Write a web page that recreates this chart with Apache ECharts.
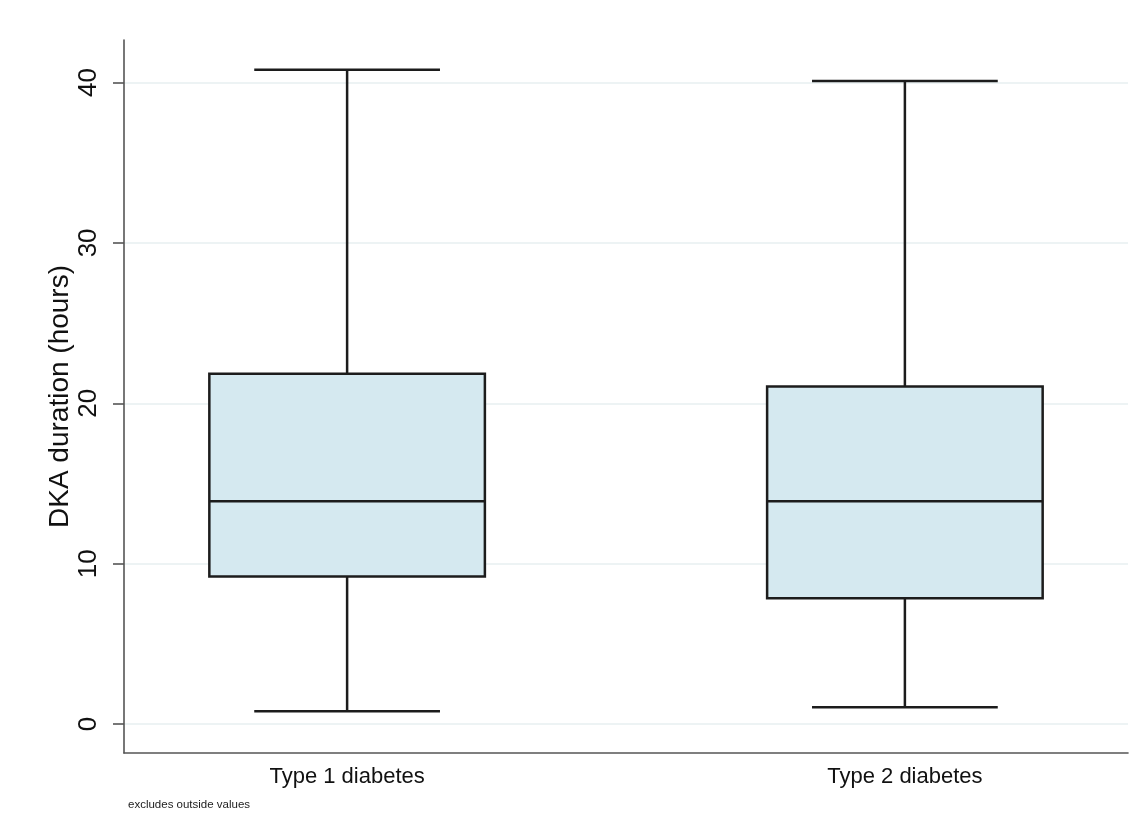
<!DOCTYPE html>
<html>
<head>
<meta charset="utf-8">
<script src="https://cdn.jsdelivr.net/npm/echarts@6/dist/echarts.min.js"></script>
<style>
  html, body { margin: 0; padding: 0; background: #ffffff; }
  #chart { width: 1145px; height: 839px; }
</style>
</head>
<body>
<div id="chart"></div>
<script>
// ---- data ----
const categories = ['Type 1 diabetes', 'Type 2 diabetes'];
const positions = [0, 1];
const whiskerLow = [0.8, 1.05];
const quartile1 = [9.2, 7.85];
const medians = [13.9, 13.9];
const quartile3 = [21.85, 21.05];
const whiskerHigh = [40.8, 40.1];
const yTicks = [0, 10, 20, 30, 40];
const yTitle = 'DKA duration (hours)';
const noteText = 'excludes outside values';

const FONT = '"Liberation Sans", Arial, Helvetica, sans-serif';
const BOX_W = 0.494;   // in axis units
const CAP_W = 0.333;

const seriesData = positions.map((p, i) => [p, whiskerLow[i], quartile1[i], medians[i], quartile3[i], whiskerHigh[i]]);

const chart = echarts.init(document.getElementById('chart'), null, { renderer: 'canvas' });

const lineStyle = { stroke: '#1c1c1c', lineWidth: 2.5 };

chart.setOption({
  backgroundColor: '#ffffff',
  animation: false,
  grid: { left: 124, right: 17, top: 40, bottom: 86 },
  xAxis: {
    type: 'value',
    min: -0.4,
    max: 1.4,
    axisLine: { show: true, onZero: false, lineStyle: { color: '#555555', width: 1.6 } },
    axisTick: { show: false, customValues: positions },
    splitLine: { show: false },
    axisLabel: {
      customValues: positions,
      formatter: v => categories[Math.round(v)] || '',
      fontSize: 22,
      color: '#111111',
      fontFamily: FONT,
      margin: 13
    }
  },
  yAxis: {
    type: 'value',
    min: -1.8,
    max: 42.65,
    name: yTitle,
    nameLocation: 'middle',
    nameRotate: 90,
    nameGap: 50,
    nameMoveOverlap: false,
    nameTextStyle: { fontSize: 28, color: '#111111', fontFamily: FONT },
    axisLine: { show: true, onZero: false, lineStyle: { color: '#555555', width: 1.6 } },
    axisTick: { show: true, length: 11, customValues: yTicks, lineStyle: { color: '#555555', width: 1.6 } },
    axisLabel: {
      customValues: yTicks,
      rotate: 90,
      fontSize: 26,
      color: '#111111',
      fontFamily: FONT,
      margin: 22
    },
    splitLine: { show: true, lineStyle: { color: '#e7eff1', width: 1.6 } }
  },
  graphic: [{
    type: 'text',
    left: 128,
    top: 799,
    style: { text: noteText, fontSize: 11.5, fill: '#222222', fontFamily: FONT }
  }],
  series: [{
    type: 'custom',
    data: seriesData,
    encode: { x: 0, y: [1, 2, 3, 4, 5] },
    renderItem: function (params, api) {
      const x = api.value(0);
      const lo = api.coord([x, api.value(1)]);
      const q1 = api.coord([x, api.value(2)]);
      const md = api.coord([x, api.value(3)]);
      const q3 = api.coord([x, api.value(4)]);
      const hi = api.coord([x, api.value(5)]);
      const bw = api.size([BOX_W, 0])[0];
      const cw = api.size([CAP_W, 0])[0];
      const cx = lo[0];
      return {
        type: 'group',
        children: [
          { type: 'line', shape: { x1: cx, y1: q1[1], x2: cx, y2: lo[1] }, style: lineStyle },
          { type: 'line', shape: { x1: cx, y1: q3[1], x2: cx, y2: hi[1] }, style: lineStyle },
          { type: 'line', shape: { x1: cx - cw / 2, y1: lo[1], x2: cx + cw / 2, y2: lo[1] }, style: lineStyle },
          { type: 'line', shape: { x1: cx - cw / 2, y1: hi[1], x2: cx + cw / 2, y2: hi[1] }, style: lineStyle },
          { type: 'rect', shape: { x: cx - bw / 2, y: q3[1], width: bw, height: q1[1] - q3[1] },
            style: { fill: '#d5e9f0', stroke: '#1c1c1c', lineWidth: 2.5 } },
          { type: 'line', shape: { x1: cx - bw / 2, y1: md[1], x2: cx + bw / 2, y2: md[1] }, style: lineStyle }
        ]
      };
    }
  }]
});
</script>
</body>
</html>
